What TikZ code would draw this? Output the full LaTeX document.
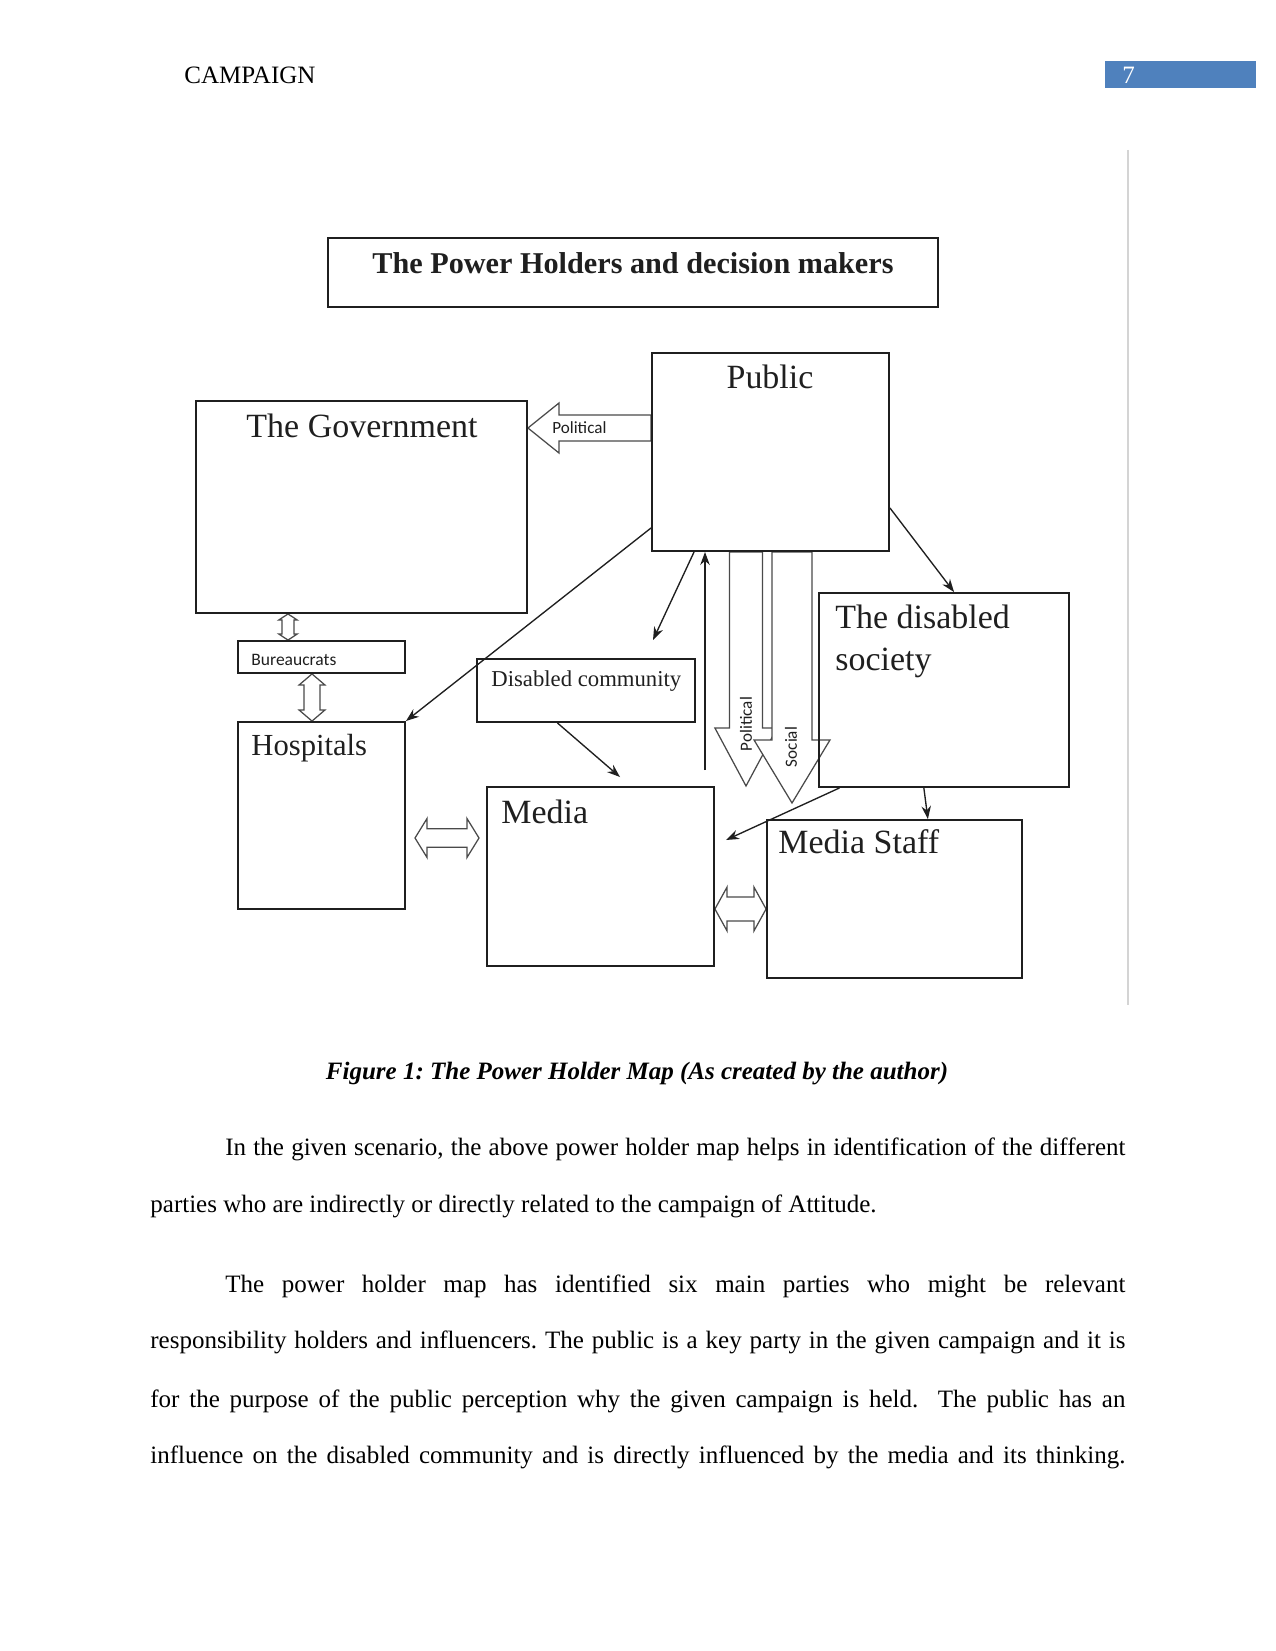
\documentclass[tikz,border=0pt]{standalone}
\usepackage{fontspec}
\setmainfont{Liberation Serif}
\newfontfamily\mapsans{Carlito}
\usetikzlibrary{arrows.meta,backgrounds,calc,fit,positioning}
\definecolor{MapInk}{HTML}{1F1F1F}
\definecolor{MapBlock}{HTML}{4A4A4A}
\definecolor{PageBlue}{HTML}{4F81BD}
\definecolor{PageRule}{HTML}{D4D4D4}
\frenchspacing
\tikzset{
  map/box/.style={draw=MapInk, line width=.9pt, inner sep=0pt},
  map/head/.style={inner sep=0pt, anchor=base west, text=MapInk,
    font=\fontsize{16.3}{19}\selectfont},
  map/small/.style={inner sep=0pt, anchor=base west, text=MapInk,
    font=\mapsans\fontsize{8.2}{10}\selectfont},
  map/arrow/.style={
    -{Stealth[length=2.2mm,width=1.6mm]}, line width=.65pt, draw=MapInk
  },
  map/block/.style={draw=MapBlock, line width=.6pt, fill=white},
  page/text/.style={inner sep=0pt, anchor=base west,
    font=\fontsize{12}{14}\selectfont}
}
% hollow block arrow: tail, tip, shaft half width, head half width, head length
\newcommand\mapblock[5]{%
  \coordinate (ba-h) at ($(#2)!#5!(#1)$);
  \draw[map/block] ($(#1)!#3!90:(#2)$) -- ($(ba-h)!#3!90:(#2)$)
    -- ($(ba-h)!#4!90:(#2)$) -- (#2) -- ($(ba-h)!#4!-90:(#2)$)
    -- ($(ba-h)!#3!-90:(#2)$) -- ($(#1)!#3!-90:(#2)$) -- cycle;}
% hollow two-headed block arrow: end, end, shaft half width, head half width, head length
\newcommand\mapdblblock[5]{%
  \coordinate (da-a) at ($(#1)!#5!(#2)$);
  \coordinate (da-b) at ($(#2)!#5!(#1)$);
  \draw[map/block] (#1) -- ($(da-a)!#4!90:(#2)$) -- ($(da-a)!#3!90:(#2)$)
    -- ($(da-b)!#3!-90:(#1)$) -- ($(da-b)!#4!-90:(#1)$) -- (#2)
    -- ($(da-b)!#4!90:(#1)$) -- ($(da-b)!#3!90:(#1)$)
    -- ($(da-a)!#3!-90:(#2)$) -- ($(da-a)!#4!-90:(#2)$) -- cycle;}

\begin{document}
\begin{tikzpicture}[x=.48pt,y=-.48pt]
  \useasboundingbox (0,0) rectangle (1275,1651);
  % running head
  \node[page/text] (runhead) at (184,84) {CAMPAIGN};
  \node[fill=PageBlue, inner sep=0pt, fit={(1105,61) (1256,88)}] (pagebox) {};
  \node[page/text, text=white] (pageno) at (1122,84) {7};
  \draw[PageRule, line width=.6pt] (1128,150) -- (1128,1005);

  % the map
  \node[map/box, fit={(328,238) (938,307)}] (title) {};
  \node[inner sep=0pt, anchor=base, text=MapInk,
    font=\fontsize{14.5}{17}\selectfont\bfseries] (titletext) at (633,273)
    {The Power Holders and decision makers};
  \node[map/box, fit={(196,401) (527,613)}] (gov) {};
  \node[map/head, anchor=base] (govtext) at (362,437) {The Government};
  \node[map/box, fit={(652,353) (889,551)}] (public) {};
  \node[map/head, anchor=base] (publictext) at (770,388) {Public};
  \node[map/box, fit={(238,641) (405,673)}] (bureau) {};
  \node[map/small, font=\mapsans\fontsize{8.4}{10}\selectfont] (bureautext)
    at (251,665) {Bureaucrats};
  \node[map/box, fit={(238,722) (405,909)}] (hosp) {};
  \node[map/head, font=\fontsize{14.7}{17}\selectfont] (hosptext) at (251,755) {Hospitals};
  \node[map/box, fit={(477,659) (695,722)}] (discom) {};
  \node[map/head, font=\fontsize{10.9}{13}\selectfont] (discomtext) at (491,686)
    {Disabled community};
  \node[map/box, fit={(487,787) (714,966)}] (media) {};
  \node[map/head] (mediatext) at (501,823) {Media};
  \node[map/box, fit={(819,593) (1069,787)}] (dsoc) {};
  \node[map/head] (dsoctext) at (835,628) {The disabled};
  \node[map/head] (dsoctextb) at (835,670) {society};
  \node[map/box, fit={(767,820) (1022,978)}] (staff) {};
  \node[map/head] (stafftext) at (778,853) {Media Staff};

  % thin arrows
  \coordinate (pd) at (653,640);
  \coordinate (mp) at (705,770);
  \coordinate (dm) at (620,777);
  \coordinate (sm) at (726,840);
  \draw[map/arrow] ($(public.south west)!.12!(public.north west)$) -- (hosp.north east);
  \draw[map/arrow] ($(public.south west)!.18!(public.south east)$) -- (pd);
  \draw[map/arrow] (mp) -- (mp |- public.south);
  \draw[map/arrow] ($(public.south east)!.22!(public.north east)$)
    -- ($(dsoc.north west)!.54!(dsoc.north east)$);
  \draw[map/arrow] ($(discom.south west)!.37!(discom.south east)$) -- (dm);
  \draw[map/arrow] ($(dsoc.south west)!.42!(dsoc.south east)$)
    -- ($(staff.north west)!.63!(staff.north east)$);
  \draw[map/arrow] ($(dsoc.south west)!.085!(dsoc.south east)$) -- (sm);

  % block arrows
  \coordinate (pg-t) at (public.west |- 0,428);
  \coordinate (pg-p) at (gov.east |- 0,428);
  \coordinate (pp-t) at (public.south -| 746,0);
  \coordinate (pp-p) at (746,786);
  \coordinate (ps-t) at (public.south -| 792,0);
  \coordinate (ps-p) at (792,803);
  \coordinate (gb-a) at (gov.south -| 288,0);
  \coordinate (gb-b) at (bureau.north -| 288,0);
  \coordinate (bh-a) at (bureau.south -| 312,0);
  \coordinate (bh-b) at (hosp.north -| 312,0);
  \coordinate (hm-a) at (415,838);
  \coordinate (hm-b) at (479,838);
  \coordinate (ms-a) at (media.east |- 0,909);
  \coordinate (ms-b) at (staff.west |- 0,909);
  \begin{scope}[on background layer]
    \mapblock{pg-t}{pg-p}{6.24pt}{12pt}{14.9pt}
    \mapblock{pp-t}{pp-p}{7.9pt}{14.9pt}{27.8pt}
    \mapblock{ps-t}{ps-p}{9.6pt}{18.2pt}{30.2pt}
    \mapdblblock{gb-a}{gb-b}{2.9pt}{4.4pt}{2.9pt}
    \mapdblblock{bh-a}{bh-b}{3.8pt}{6.2pt}{5.3pt}
    \mapdblblock{hm-a}{hm-b}{4.4pt}{9.4pt}{5.8pt}
    \mapdblblock{ms-a}{ms-b}{5.8pt}{10.5pt}{5.8pt}
  \end{scope}
  \node[map/small] (poltext) at (552,433) {Political};
  \node[map/small, anchor=center, rotate=90] (poltextb) at (746,724) {Political};
  \node[map/small, anchor=center, rotate=90] (soctext) at (791,747) {Social};

  % caption and body
  \node[page/text, anchor=base, font=\fontsize{12}{14}\selectfont\bfseries\itshape]
    (caption) at (637,1079) {Figure 1: The Power Holder Map (As created by the author)};
  \node[page/text] (parai) at (225,1155)
    {\makebox[432pt][s]{In the given scenario, the above power holder map helps in identification of the different}};
  \node[page/text] (paraii) at (150,1212)
    {parties who are indirectly or directly related to the campaign of Attitude.};
  \node[page/text] (paraiii) at (225,1292)
    {\makebox[432pt][s]{The power holder map has identified six main parties who might be relevant}};
  \node[page/text] (paraiv) at (150,1348)
    {\makebox[468pt][s]{responsibility holders and influencers. The public is a key party in the given campaign and it is}};
  \node[page/text] (parav) at (150,1407)
    {\makebox[468pt][s]{for the purpose of the public perception why the given campaign is held.\ \ The public has an}};
  \node[page/text] (paravi) at (150,1463)
    {\makebox[468pt][s]{influence on the disabled community and is directly influenced by the media and its thinking.}};
\end{tikzpicture}
\end{document}
